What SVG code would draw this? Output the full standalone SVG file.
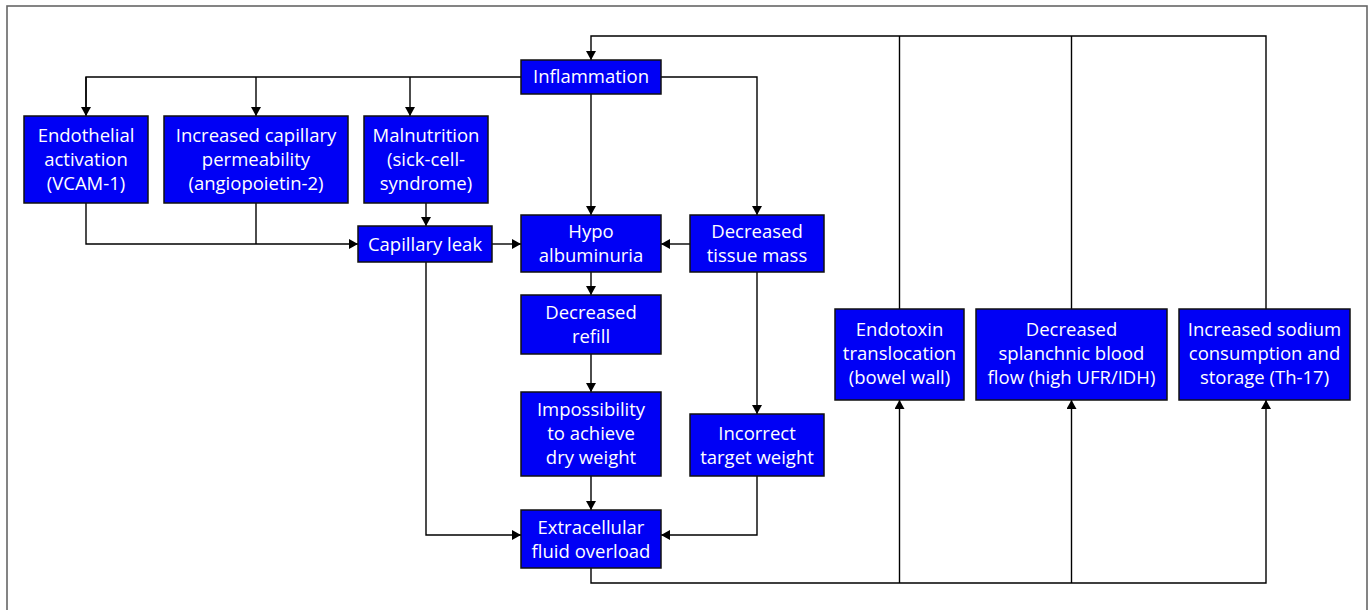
<svg xmlns="http://www.w3.org/2000/svg" width="1370" height="610" viewBox="0 0 1370 610">
<defs>
<marker id="ah" markerUnits="userSpaceOnUse" markerWidth="11" markerHeight="10" refX="9" refY="5" orient="auto">
<path d="M0,0 L9,5 L0,10 Z" fill="#000"/>
</marker>
<style>
.node rect{fill:#0000f5;stroke:#111;stroke-width:1.5}
.node text{fill:#fff;font-family:"Open Sans","Noto Sans",sans-serif;font-size:18.5px;text-anchor:middle}
.c{fill:none;stroke:#000;stroke-width:1.4}
.a{marker-end:url(#ah)}
</style>
</defs>
<rect x="0" y="0" width="1370" height="610" fill="#fff"/>
<rect x="7" y="6" width="1360" height="620" fill="none" stroke="#666" stroke-width="1.6"/>
<g id="connectors">
<path class="c" d="M521,77 H86 V115"/>
<path class="c a" d="M86,77 V116"/>
<path class="c a" d="M256,77 V116"/>
<path class="c a" d="M410,77 V116"/>
<path class="c a" d="M591,94 V215"/>
<path class="c a" d="M661,77 H757 V215"/>
<path class="c a" d="M86,203 V244 H358"/>
<path class="c" d="M256,203 V244"/>
<path class="c a" d="M426,203 V226"/>
<path class="c a" d="M492,244 H521"/>
<path class="c a" d="M690,244 H661"/>
<path class="c a" d="M591,272 V295"/>
<path class="c a" d="M591,354 V392"/>
<path class="c a" d="M591,476 V510"/>
<path class="c a" d="M426,262 V535 H521"/>
<path class="c a" d="M757,272 V414"/>
<path class="c a" d="M757,476 V535 H661"/>
<path class="c a" d="M591,568 V583 H1266 V400"/>
<path class="c a" d="M899.5,583 V400"/>
<path class="c a" d="M1071.5,583 V400"/>
<path class="c" d="M899.5,309 V36"/>
<path class="c" d="M1071.5,309 V36"/>
<path class="c a" d="M1266,309 V36 H591 V60"/>
</g>
<g id="n-inflammation" class="node"><rect x="521" y="60" width="140" height="34"/><text x="591" y="83">Inflammation</text></g>
<g id="n-endothelial" class="node"><rect x="24" y="116" width="124" height="87"/><text x="86" y="141.5">Endothelial</text><text x="86" y="165.8">activation</text><text x="86" y="190">(VCAM-1)</text></g>
<g id="n-permeability" class="node"><rect x="164" y="116" width="184" height="87"/><text x="256" y="141.5">Increased capillary</text><text x="256" y="165.8">permeability</text><text x="256" y="190">(angiopoietin-2)</text></g>
<g id="n-malnutrition" class="node"><rect x="364" y="116" width="124" height="87"/><text x="426" y="141.5">Malnutrition</text><text x="426" y="165.8">(sick-cell-</text><text x="426" y="190">syndrome)</text></g>
<g id="n-capleak" class="node"><rect x="358" y="226" width="134" height="36"/><text x="425" y="250.5">Capillary leak</text></g>
<g id="n-hypo" class="node"><rect x="521" y="215" width="140" height="57"/><text x="591" y="237.5">Hypo</text><text x="591" y="261.5">albuminuria</text></g>
<g id="n-tissue" class="node"><rect x="690" y="215" width="134" height="57"/><text x="757" y="237.5">Decreased</text><text x="757" y="261.5">tissue mass</text></g>
<g id="n-refill" class="node"><rect x="521" y="295" width="140" height="59"/><text x="591" y="318.5">Decreased</text><text x="591" y="342.5">refill</text></g>
<g id="n-impossibility" class="node"><rect x="521" y="392" width="140" height="84"/><text x="591" y="415.5">Impossibility</text><text x="591" y="439.5">to achieve</text><text x="591" y="463.5">dry weight</text></g>
<g id="n-incorrect" class="node"><rect x="690" y="414" width="134" height="62"/><text x="757" y="439.5">Incorrect</text><text x="757" y="463.5">target weight</text></g>
<g id="n-extracellular" class="node"><rect x="521" y="510" width="140" height="58"/><text x="591" y="534">Extracellular</text><text x="591" y="557.5">fluid overload</text></g>
<g id="n-endotoxin" class="node"><rect x="835" y="309" width="129" height="91"/><text x="899.5" y="335.5">Endotoxin</text><text x="899.5" y="359.5">translocation</text><text x="899.5" y="383.5">(bowel wall)</text></g>
<g id="n-splanchnic" class="node"><rect x="976" y="309" width="191" height="91"/><text x="1071.5" y="335.5">Decreased</text><text x="1071.5" y="359.5">splanchnic blood</text><text x="1071.5" y="383.5">flow (high UFR/IDH)</text></g>
<g id="n-sodium" class="node"><rect x="1179" y="309" width="171" height="91"/><text x="1264.5" y="335.5">Increased sodium</text><text x="1264.5" y="359.5">consumption and</text><text x="1264.5" y="383.5">storage (Th-17)</text></g>
</svg>
